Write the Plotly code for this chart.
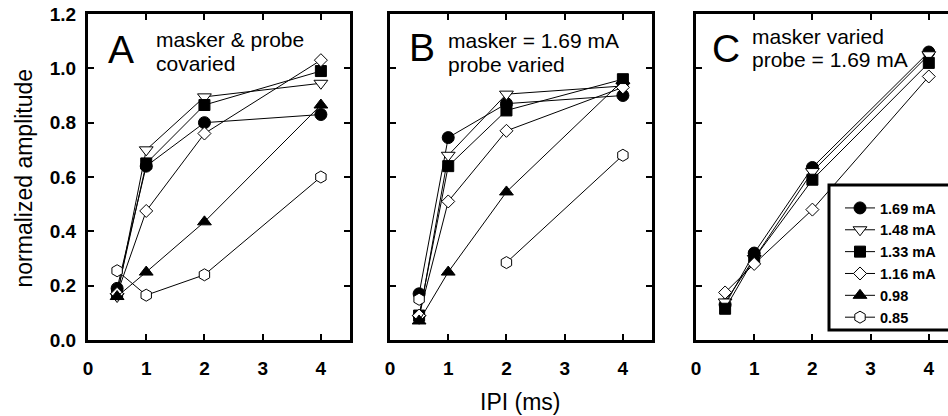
import plotly.graph_objects as go

W, H = 948, 416

# ---------------- data ----------------
ipi = [0.5, 1, 2, 4]
series_names = ["1.69 mA", "1.48 mA", "1.33 mA", "1.16 mA", "0.98", "0.85"]

panel_a = {
    "1.69 mA": [0.19, 0.64, 0.80, 0.83],
    "1.48 mA": [0.16, 0.70, 0.895, 0.945],
    "1.33 mA": [0.17, 0.65, 0.865, 0.99],
    "1.16 mA": [0.17, 0.475, 0.76, 1.03],
    "0.98":    [0.16, 0.25, 0.435, 0.865],
    "0.85":    [0.255, 0.165, 0.24, 0.60],
}
panel_b = {
    "1.69 mA": [0.17, 0.745, 0.87, 0.90],
    "1.48 mA": [0.08, 0.68, 0.905, 0.935],
    "1.33 mA": [0.09, 0.64, 0.845, 0.96],
    "1.16 mA": [0.09, 0.51, 0.77, 0.93],
    "0.98":    [0.07, 0.25, 0.545, 0.955],
    "0.85":    [0.15, None, 0.285, 0.68],
}
panel_c = {
    "1.69 mA": [0.13, 0.32, 0.635, 1.06],
    "1.48 mA": [0.14, 0.30, 0.62, 1.05],
    "1.33 mA": [0.115, 0.30, 0.59, 1.02],
    "1.16 mA": [0.175, 0.28, 0.48, 0.97],
}

x_ticks = [0, 1, 2, 3, 4]
y_ticks = [0.0, 0.2, 0.4, 0.6, 0.8, 1.0, 1.2]
y_tick_labels = ["0.0", "0.2", "0.4", "0.6", "0.8", "1.0", "1.2"]

# ---------------- styles ----------------
styles = {
    "1.69 mA": dict(symbol="circle", color="black", size=12),
    "1.48 mA": dict(symbol="triangle-down", color="white", size=12),
    "1.33 mA": dict(symbol="square", color="black", size=11),
    "1.16 mA": dict(symbol="diamond", color="white", size=10),
    "0.98":    dict(symbol="triangle-up", color="black", size=12),
    "0.85":    dict(symbol="hexagon", color="white", size=12),
}

def px(x):
    return x / W

def py(y):
    return 1 - y / H

fig = go.Figure()

panels = [(panel_a, "x", "y", True), (panel_b, "x2", "y2", False), (panel_c, "x3", "y3", False)]
for data, xa, ya, show in panels:
    for name in series_names:
        if name not in data:
            continue
        st = styles[name]
        fig.add_trace(go.Scatter(
            x=ipi, y=data[name], mode="lines+markers", name=name,
            xaxis=xa, yaxis=ya, showlegend=show, connectgaps=False,
            line=dict(color="black", width=1),
            marker=dict(symbol=st["symbol"], size=st["size"], color=st["color"],
                        line=dict(color="black", width=1)),
        ))

font_family = "Arial, Liberation Sans, sans-serif"
tickfont = dict(family=font_family, size=19, color="black", weight="bold")

y_dom = [py(340), py(14)]
x_doms = [[px(88), px(350)], [px(390), px(652)], [px(696), 1.0]]
x_ranges = [[0, 4.5], [0, 4.5], [0, (948 - 696) / 58.2]]

common_axis = dict(showgrid=False, zeroline=False, showline=True, linecolor="black",
                   linewidth=3, ticks="inside", ticklen=6, tickwidth=2, tickcolor="black",
                   tickfont=tickfont)

layout = dict(width=W, height=H, margin=dict(l=0, r=0, t=0, b=0, autoexpand=False),
              plot_bgcolor="white", paper_bgcolor="white", showlegend=True)

for i in range(3):
    sfx = "" if i == 0 else str(i + 1)
    layout["xaxis" + sfx] = dict(common_axis, domain=x_doms[i], range=x_ranges[i],
                                 tickvals=x_ticks, ticktext=[str(t) for t in x_ticks],
                                 mirror="allticks", anchor="y" + sfx,
                                 ticklabelstandoff=9)
    layout["yaxis" + sfx] = dict(common_axis, domain=y_dom, range=[0, 1.2],
                                 tickvals=y_ticks, ticktext=y_tick_labels,
                                 showticklabels=(i == 0),
                                 mirror=("allticks" if i < 2 else False),
                                 anchor="x" + sfx, ticklabelstandoff=5)

fig.update_layout(**layout)

fig.update_layout(legend=dict(
    x=px(840), y=py(192), xanchor="left", yanchor="top",
    bgcolor="rgba(0,0,0,0)", borderwidth=0,
    font=dict(family=font_family, size=14.5, color="black", weight="bold"),
    traceorder="normal", itemsizing="trace",
))

# legend frame
fig.add_shape(type="rect", xref="paper", yref="paper",
              x0=px(829), x1=px(970), y0=py(330), y1=py(185),
              line=dict(color="black", width=3), fillcolor="white", layer="above")

ann = []
def add_text(text, x, yc, size, angle=0, anchor="left"):
    ann.append(dict(text=text, x=px(x), y=py(yc), xref="paper", yref="paper",
                    xanchor=anchor, yanchor="middle", showarrow=False, textangle=angle,
                    font=dict(family=font_family, size=size, color="black")))

add_text("A", 106, 49, 39)
add_text("masker & probe", 154, 39.5, 21)
add_text("covaried", 154, 63, 21)
add_text("B", 407, 47.5, 39)
add_text("masker = 1.69 mA", 446, 41, 21)
add_text("probe varied", 446, 64, 21)
add_text("C", 710, 48, 39)
add_text("masker varied", 750, 36, 21)
add_text("probe = 1.69 mA", 750, 59.5, 21)
add_text("normalized amplitude", 23, 178.5, 23, angle=-90, anchor="center")
add_text("IPI (ms)", 520, 402, 23, anchor="center")
fig.update_layout(annotations=ann)

fig.write_html("out.html")
